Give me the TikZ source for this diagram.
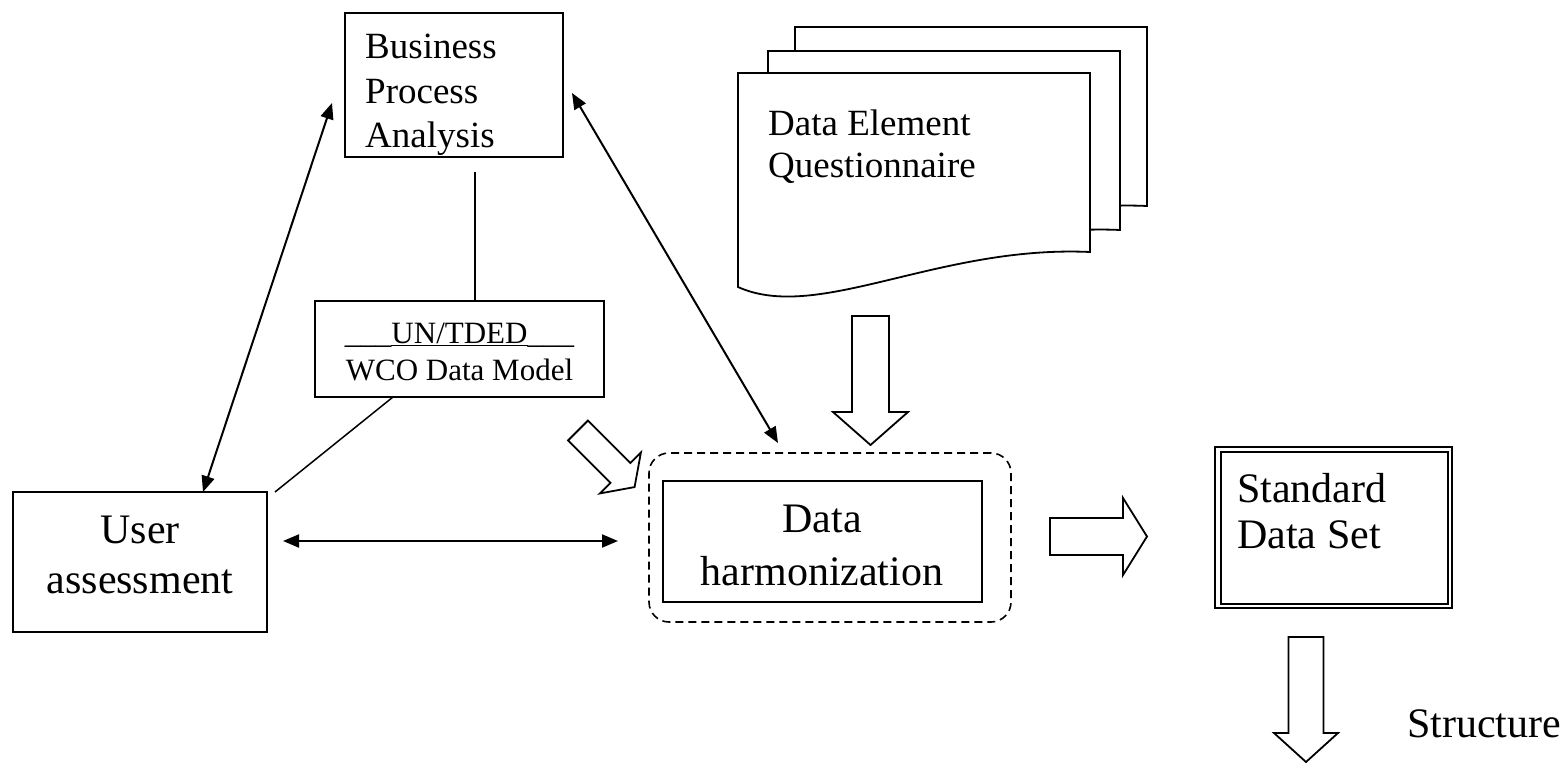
\documentclass[tikz,border=0pt]{standalone}
\usepackage{fontspec}
\setmainfont{Liberation Serif}
\usetikzlibrary{arrows.meta,calc}
% block arrow: x, y, angle, length, shaft half width, head half width, head length
\newcommand{\blockarrow}[7]{%
  \draw[blk, shift={(#1,#2)}, rotate=#3]
    (0,-#5) -- ({#4-#7},-#5) -- ({#4-#7},-#6) -- (#4,0) -- ({#4-#7},#6) -- ({#4-#7},#5) -- (0,#5) -- cycle;}
\newcommand{\docpage}[2]{%
  \draw[page, shift={(#1,#2)}]
    (0,0) -- (352,0) -- (352,179) .. controls (200,172) and (80,250) .. (0,214) -- cycle;}
\begin{document}
\begin{tikzpicture}[x=1pt,y=-1pt,
  box/.style={draw,line width=2pt,inner sep=0pt},
  txt/.style={inner sep=0pt},
  big/.style={font=\fontsize{42}{48}\selectfont},
  mid/.style={font=\fontsize{37}{43}\selectfont},
  small/.style={font=\fontsize{31}{36}\selectfont},
  conn/.style={line width=2pt,{Triangle[length=16pt,width=13pt]}-{Triangle[length=16pt,width=13pt]}},
  plain/.style={line width=1.5pt},
  blk/.style={draw,line width=1.8pt,fill=white,line join=miter},
  page/.style={draw,line width=1.8pt,fill=white}]
\useasboundingbox (0,0) rectangle (1564,763);

% Business Process Analysis
\node[box,minimum width=218pt,minimum height=144pt] (bpa) at (454,85) {};
\node[txt,mid,anchor=base west] (bpa1) at (365,58) {Business};
\node[txt,mid,anchor=base west] (bpa2) at (365,103) {Process};
\node[txt,mid,anchor=base west] (bpa3) at (365,147) {Analysis};

% UN/TDED box
\node[box,minimum width=289pt,minimum height=96pt] (un) at (459.5,349) {};
\node[txt,small,anchor=base] (un1) at (459.5,343) {\_\_\_\underline{UN/TDED}\_\_\_};
\node[txt,small,anchor=base] (un2) at (459.5,380) {WCO Data Model};

% User assessment
\node[box,minimum width=254pt,minimum height=140pt] (user) at (140,562) {};
\node[txt,big,anchor=base] (user1) at (140,543) {User};
\node[txt,big,anchor=base] (user2) at (140,593) {assessment};

% Document stack
\docpage{795}{27}
\docpage{768}{51}
\docpage{738}{73}
\node[txt,mid,anchor=base west] (de1) at (768,135) {Data Element};
\node[txt,mid,anchor=base west] (de2) at (768,177) {Questionnaire};

% Data harmonization
\node[draw,dash pattern=on 8pt off 5pt,line width=1.6pt,rounded corners=20pt,
      minimum width=362pt,minimum height=169pt,inner sep=0pt] (dhout) at (830,537.5) {};
\node[box,minimum width=319pt,minimum height=121pt] (dh) at (822.5,541.5) {};
\node[txt,big,anchor=base] (dh1) at (822,532) {Data};
\node[txt,big,anchor=base] (dh2) at (822,585) {harmonization};

% Standard Data Set (double frame)
\node[box,minimum width=237pt,minimum height=161pt] (sds) at (1333.5,527.5) {};
\draw[line width=1.4pt] ([shift={(7,6)}]sds.north west) rectangle ([shift={(-5,-5)}]sds.south east);
\node[txt,big,anchor=base west] (sds1) at (1237,502) {Standard};
\node[txt,big,anchor=base west] (sds2) at (1237,548) {Data Set};

\node[txt,big,anchor=base west] (struct) at (1407,737) {Structure};

% plain connectors
\coordinate (bpagap) at (475,172);
\draw[plain] (bpagap) -- (bpagap |- un.north);
\coordinate (unfoot) at (393,397);
\coordinate (userend) at (275,492);
\draw[plain] (unfoot) -- (userend);

% double-headed arrows
\coordinate (la1) at (203,492);
\coordinate (la2) at (332,103);
\draw[conn] (la1) -- (la2);
\coordinate (ra1) at (572,93);
\coordinate (ra2) at (778,443);
\draw[conn] (ra1) -- (ra2);
\coordinate (ha1) at (283,541);
\coordinate (ha2) at (618,541);
\draw[conn] (ha1) -- (ha2);

% hollow block arrows
\blockarrow{870.5}{316}{-90}{129}{18.5}{37.5}{33}
\blockarrow{1050}{536.5}{0}{97}{18.5}{38.5}{24}
\blockarrow{1306}{637}{-90}{125}{17.5}{32}{29}
\blockarrow{578}{430.5}{-45}{80}{14}{29}{20}
\end{tikzpicture}
\end{document}
